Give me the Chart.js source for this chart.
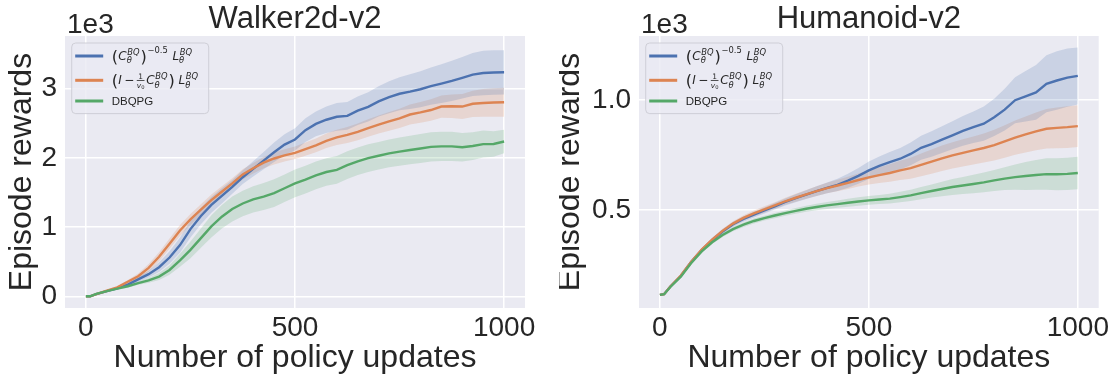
<!DOCTYPE html>
<html><head><meta charset="utf-8">
<script src="https://cdn.jsdelivr.net/npm/chart.js@4.4.0/dist/chart.umd.min.js"></script>
<style>
html,body{margin:0;padding:0;background:#fff;}
#wrap{position:relative;width:1118px;height:377px;overflow:hidden;background:#fff;}
canvas{position:absolute;top:0;}
</style></head><body>
<div id="wrap">
<canvas id="c1" width="559" height="377" style="left:0px"></canvas>
<canvas id="c2" width="559" height="377" style="left:559px"></canvas>
</div>
<script>
// ---------- data ----------
const steps = [0,10,25,50,75,100,125,150,175,200,225,250,275,300,325,350,375,400,425,450,475,500,525,550,575,600,625,650,675,700,725,750,775,800,825,850,875,900,925,950,975,1000];
const xTicks = [0, 500, 1000];
const walkerYTicks = [0, 1000, 2000, 3000];
const humYTicks = [500, 1000];
const seriesLabels = ['(C_θ^BQ)^-0.5 L_θ^BQ', '(I - 1/v0 C_θ^BQ) L_θ^BQ', 'DBQPG'];

// Walker2d-v2 (episode rewards)
const walkerBlue   = [0,0,30,75,115,170,245,320,420,560,740,970,1160,1320,1450,1580,1720,1840,1960,2080,2190,2265,2400,2490,2550,2592,2605,2680,2735,2815,2875,2925,2955,2990,3035,3072,3110,3155,3202,3225,3232,3235];
const walkerOrange = [0,0,30,80,130,210,290,410,570,760,950,1110,1250,1390,1510,1630,1760,1850,1930,1990,2035,2072,2125,2180,2245,2295,2330,2375,2430,2480,2525,2570,2625,2655,2690,2740,2745,2740,2780,2792,2798,2803];
const walkerGreen  = [0,0,35,75,110,145,190,230,285,380,520,670,840,1010,1150,1260,1340,1400,1440,1490,1560,1630,1685,1745,1795,1825,1893,1950,1995,2030,2065,2090,2113,2135,2158,2165,2165,2152,2170,2198,2200,2236];
const walkerBlueSpread   = [0,0,5,10,15,25,35,50,70,90,110,120,120,115,110,100,100,110,125,140,150,160,170,180,190,200,200,205,210,220,230,240,250,260,270,280,290,300,310,320,320,320];
const walkerOrangeSpread = [0,0,5,10,15,25,40,55,65,75,80,80,80,80,80,75,75,75,80,85,90,90,95,100,105,110,115,120,125,130,135,140,145,150,155,160,170,180,190,200,205,210];
const walkerGreenSpread  = [0,0,5,10,15,20,25,35,50,70,95,120,140,160,170,180,185,190,195,200,200,200,200,200,200,200,200,200,200,200,200,205,205,210,210,210,210,205,200,195,185,170];

// Humanoid-v2 (episode rewards)
const humBlue   = [112,115,150,198,263,316,362,401,434,458,478,497,516,536,553,569,585,600,614,633,655,680,700,718,733,755,783,800,820,840,860,877,893,922,957,1000,1018,1036,1075,1090,1103,1111];
const humOrange = [112,115,150,200,263,318,364,404,437,463,484,502,520,539,555,570,585,599,611,623,636,648,658,668,680,690,705,720,735,748,760,771,782,795,812,829,844,858,870,874,877,882];
const humGreen  = [112,115,148,195,257,310,352,385,412,432,449,462,474,485,495,505,513,520,526,532,538,543,547,551,558,566,576,586,595,604,611,618,625,634,642,649,654,659,663,662,664,668];
const humBlueSpread   = [0,0,2,4,6,8,9,10,11,12,13,14,15,16,18,20,22,25,28,32,36,40,43,46,49,52,55,58,61,64,68,72,78,85,95,105,115,125,130,133,133,130];
const humOrangeSpread = [0,0,2,4,6,8,9,10,11,12,13,14,15,16,18,20,22,24,26,28,30,32,36,40,44,48,52,55,58,60,62,64,66,70,74,78,82,86,90,93,95,95];
const humGreenSpread  = [0,0,2,4,6,7,8,9,10,10,11,11,12,12,13,14,15,16,17,18,19,20,21,22,24,26,28,30,33,36,39,42,45,48,52,58,64,68,72,73,74,74];

// ---------- style ----------
const COLORS = ['#4C72B0', '#DD8452', '#55A868'];
const BAND = ['rgba(76,114,176,0.2)', 'rgba(221,132,82,0.2)', 'rgba(85,168,104,0.2)'];
const TXT = '#262626';
const FAM = '"Liberation Sans", Arial, sans-serif';
const MATHFAM = '"DejaVu Sans"';

function buildDatasets(means, spreads) {
  const ds = [];
  means.forEach((m, k) => {
    const s = spreads[k];
    ds.push({label: seriesLabels[k] + ' low', data: steps.map((x, i) => ({x, y: m[i] - s[i]})),
      borderWidth: 0, pointRadius: 0, fill: false, backgroundColor: 'transparent', borderColor: 'transparent', order: 10});
    ds.push({label: seriesLabels[k] + ' high', data: steps.map((x, i) => ({x, y: m[i] + s[i]})),
      borderWidth: 0, pointRadius: 0, fill: '-1', backgroundColor: BAND[k], borderColor: 'transparent', order: 10});
  });
  means.forEach((m, k) => {
    ds.push({label: seriesLabels[k], data: steps.map((x, i) => ({x, y: m[i]})),
      borderColor: COLORS[k], borderWidth: 2.4, pointRadius: 0, fill: false, tension: 0, order: 3 - k});
  });
  return ds;
}

// ---------- math legend text ----------
function mf(sz, it) { return (it ? 'italic ' : '') + sz.toFixed(2) + 'px ' + MATHFAM; }
function drawMath(ctx, x, base, items, fs) {
  let cx = x;
  ctx.textBaseline = 'alphabetic'; ctx.textAlign = 'left';
  for (const it of items) {
    if (it.k === 't') {
      const sz = fs * (it.scale || 1);
      ctx.font = mf(sz, it.it);
      ctx.fillText(it.s, cx, base + (it.dy || 0) * fs);
      cx += ctx.measureText(it.s).width + (it.gap || 0) * fs;
    } else if (it.k === 'ss') {
      ctx.font = mf(fs * 0.7, true);
      const w1 = ctx.measureText(it.sup).width;
      ctx.fillText(it.sup, cx + 0.05 * fs, base - 0.45 * fs);
      const w2 = ctx.measureText(it.sub).width;
      ctx.fillText(it.sub, cx, base + 0.28 * fs);
      cx += Math.max(w1 + 0.05 * fs, w2) + 0.08 * fs;
    } else if (it.k === 'sup') {
      ctx.font = mf(fs * 0.7, false);
      ctx.fillText(it.s, cx + 0.05 * fs, base - 0.6 * fs);
      cx += ctx.measureText(it.s).width + 0.12 * fs;
    } else if (it.k === 'frac') {
      const sz = fs * 0.62;
      ctx.font = mf(sz, false); const wn = ctx.measureText('1').width;
      ctx.font = mf(sz, true); const wv = ctx.measureText('v').width;
      ctx.font = mf(sz * 0.7, false); const w0 = ctx.measureText('0').width;
      const wd = wv + w0;
      const w = Math.max(wn, wd) + 0.12 * fs;
      ctx.font = mf(sz, false); ctx.fillText('1', cx + (w - wn) / 2, base - 0.45 * fs);
      ctx.fillRect(cx + 0.06 * fs, base - 0.36 * fs, w - 0.12 * fs, Math.max(0.8, fs * 0.055));
      ctx.font = mf(sz, true); ctx.fillText('v', cx + (w - wd) / 2, base + 0.3 * fs);
      ctx.font = mf(sz * 0.7, false); ctx.fillText('0', cx + (w - wd) / 2 + wv, base + 0.42 * fs);
      cx += w + 0.08 * fs;
    }
  }
  return cx;
}
const row1 = [
  {k:'t', s:'(', scale:1.35, dy:0.17, gap:0.02}, {k:'t', s:'C', it:true}, {k:'ss', sup:'BQ', sub:'θ'},
  {k:'t', s:')', scale:1.35, dy:0.17}, {k:'sup', s:'−0.5'}, {k:'t', s:' '}, {k:'t', s:'L', it:true}, {k:'ss', sup:'BQ', sub:'θ'}
];
const row2 = [
  {k:'t', s:'(', scale:1.35, dy:0.17, gap:0.02}, {k:'t', s:'I', it:true, gap:0.2}, {k:'t', s:'−', gap:0.15}, {k:'frac'},
  {k:'t', s:'C', it:true}, {k:'ss', sup:'BQ', sub:'θ'}, {k:'t', s:')', scale:1.35, dy:0.17}, {k:'t', s:' '},
  {k:'t', s:'L', it:true}, {k:'ss', sup:'BQ', sub:'θ'}
];

const decorPlugin = {
  id: 'decor',
  beforeDraw(chart) {
    const {ctx, chartArea: a} = chart;
    ctx.save();
    ctx.fillStyle = '#ffffff';
    ctx.fillRect(0, 0, chart.width, chart.height);
    ctx.fillStyle = '#EAEAF2';
    ctx.fillRect(a.left, a.top, a.right - a.left, a.bottom - a.top);
    ctx.restore();
  },
  afterDraw(chart) {
    const {ctx, chartArea: a} = chart;
    ctx.save();
    ctx.fillStyle = TXT;
    ctx.font = '28px ' + FAM;
    ctx.textAlign = 'left'; ctx.textBaseline = 'alphabetic';
    ctx.fillText('1e3', a.left + 2, 33);
    const bx = a.left + 6.7, by = a.top + 7, bw = 137, bh = 70.6;
    ctx.beginPath();
    ctx.roundRect(bx, by, bw, bh, 4);
    ctx.fillStyle = 'rgba(234,234,242,0.8)';
    ctx.fill();
    ctx.strokeStyle = 'rgba(204,204,212,0.9)';
    ctx.lineWidth = 1;
    ctx.stroke();
    const rows = [by + 13, by + 37.3, by + 58];
    rows.forEach((yc, k) => {
      ctx.beginPath();
      ctx.strokeStyle = COLORS[k];
      ctx.lineWidth = 3;
      ctx.lineCap = 'butt';
      ctx.moveTo(bx + 3.5, yc); ctx.lineTo(bx + 31.5, yc);
      ctx.stroke();
    });
    ctx.fillStyle = TXT;
    const tx = bx + 40;
    drawMath(ctx, tx, rows[0] + 4, row1, 12);
    drawMath(ctx, tx, rows[1] + 4, row2, 12);
    ctx.font = '11.5px ' + FAM;
    ctx.textBaseline = 'alphabetic';
    ctx.fillText(seriesLabels[2], tx, rows[2] + 4.2);
    ctx.restore();
  }
};

function makeChart(id, title, means, spreads, yMin, yMax, yTicks, yFmt, yWidth, rightPad, yTitlePad) {
  return new Chart(document.getElementById(id), {
    type: 'line',
    data: {datasets: buildDatasets(means, spreads)},
    options: {
      responsive: false, animation: false, devicePixelRatio: 1,
      layout: {padding: {left: 0, right: rightPad, top: 0, bottom: 0}},
      plugins: {
        legend: {display: false}, tooltip: {enabled: false},
        title: {display: true, text: title, fullSize: false, color: TXT,
          font: {family: FAM, size: 31, weight: 'normal', lineHeight: 1}, padding: {top: 4, bottom: 1}}
      },
      scales: {
        x: {
          type: 'linear', min: -50, max: 1050,
          afterFit: s => { s.height = 69; },
          afterBuildTicks: s => { s.ticks = xTicks.map(v => ({value: v})); },
          grid: {color: '#ffffff', lineWidth: 1.5, drawTicks: false},
          border: {display: false},
          ticks: {padding: 3, color: TXT, font: {family: FAM, size: 28}, maxRotation: 0, callback: v => String(v)},
          title: {display: true, text: 'Number of policy updates', color: TXT,
            font: {family: FAM, size: 32, lineHeight: 1.2}, padding: {top: 0, bottom: 0}}
        },
        y: {
          type: 'linear', min: yMin, max: yMax,
          afterFit: s => { s.width = yWidth; },
          afterBuildTicks: s => { s.ticks = yTicks.map(v => ({value: v})); },
          grid: {color: '#ffffff', lineWidth: 1.5, drawTicks: false},
          border: {display: false},
          ticks: {padding: 8, color: TXT, font: {family: FAM, size: 28}, callback: yFmt},
          title: {display: true, text: 'Episode rewards', color: TXT,
            font: {family: FAM, size: 32, lineHeight: 0.72}, padding: {top: yTitlePad, bottom: 0}}
        }
      }
    },
    plugins: [decorPlugin]
  });
}

makeChart('c1', 'Walker2d-v2', [walkerBlue, walkerOrange, walkerGreen],
  [walkerBlueSpread, walkerOrangeSpread, walkerGreenSpread],
  -169, 3759, walkerYTicks, v => String(Math.round(v / 1000)), 65, 34, 11);
makeChart('c2', 'Humanoid-v2', [humBlue, humOrange, humGreen],
  [humBlueSpread, humOrangeSpread, humGreenSpread],
  52, 1293, humYTicks, v => (v / 1000).toFixed(1), 80, 19.3, 0);
</script>
</body></html>
